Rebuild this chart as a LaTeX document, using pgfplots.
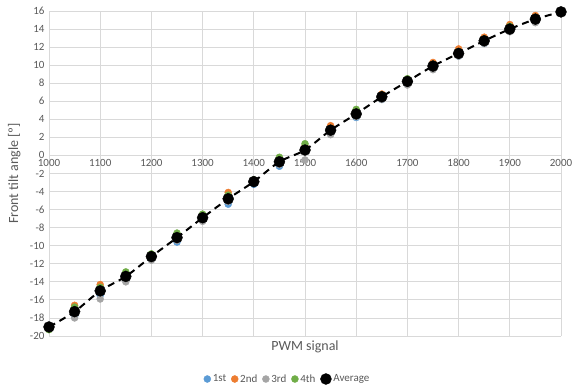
\documentclass[border=0pt]{standalone}
\usepackage{fontspec}
\setmainfont{Carlito}
\usepackage{pgfplots}
\usepackage{pgfplotstable}
\usetikzlibrary{calc}
\pgfplotsset{compat=1.18}
\definecolor{cblue}{HTML}{5B9BD5}
\definecolor{corange}{HTML}{ED7D31}
\definecolor{cgray}{HTML}{A5A5A5}
\definecolor{cgreen}{HTML}{70AD47}
\definecolor{txt}{HTML}{595959}
\definecolor{gridc}{HTML}{D9D9D9}
\pgfplotstableread{
x first second third fourth avg
1000 -19.0 -19.0 -19.1 -19.3 -19.0
1050 -17.8 -16.6 -18.0 -16.8 -17.3
1100 -15.5 -14.3 -15.9 -14.6 -15.0
1150 -13.8 -13.1 -14.0 -12.9 -13.4
1200 -11.5 -11.0 -11.6 -10.9 -11.2
1250 -9.6 -8.8 -9.4 -8.6 -9.1
1300 -7.1 -6.7 -7.3 -6.5 -6.9
1350 -5.4 -4.1 -5.1 -4.4 -4.8
1400 -3.2 -2.8 -3.0 -2.7 -2.9
1450 -1.2 -0.4 -1.0 -0.2 -0.7
1500 0.8 1.0 -0.5 1.3 0.6
1550 2.5 3.3 2.3 3.0 2.8
1600 4.2 4.9 4.3 5.1 4.6
1650 6.2 6.8 6.2 6.7 6.5
1700 7.9 8.4 7.8 8.5 8.2
1750 9.6 10.3 9.5 10.1 9.9
1800 11.0 11.8 11.0 11.5 11.3
1850 12.4 13.1 12.4 12.9 12.7
1900 13.8 14.5 13.7 14.3 14.0
1950 14.8 15.5 14.7 15.3 15.1
2000 15.9 15.9 15.9 15.9 15.9
}\data
\begin{document}
\begin{tikzpicture}
\begin{axis}[
  name=ax,
  scale only axis, width=512pt, height=325pt,
  xmin=1000, xmax=2000, ymin=-20, ymax=16,
  xtick={1000,1100,...,2000}, ytick={-20,-18,...,16},
  axis x line=middle, axis y line=left,
  axis line style={draw=gridc, line width=0.8pt, -},
  grid=major, grid style={gridc, line width=0.8pt},
  major tick length=0pt,
  hide obscured x ticks=false, hide obscured y ticks=false,
  /pgf/number format/assume math mode=true,
  /pgf/number format/1000 sep={},
  ticklabel style={font=\fontsize{11}{13}\selectfont, text=txt},
  xticklabel style={yshift=0pt},
  yticklabel style={xshift=-1pt},
  xlabel={PWM signal}, ylabel={Front tilt angle [º]},
  label style={font=\fontsize{14}{16}\selectfont, text=txt},
  xlabel style={at={(axis description cs:0.5,0)}, anchor=center, yshift=-11pt},
  ylabel style={at={(axis description cs:-0.068,0.5)}, anchor=center},
  legend style={at={(axis description cs:0.466,0)}, anchor=center, yshift=-43pt,
    draw=none, font=\fontsize{11}{13}\selectfont, text=txt,
    /tikz/every even column/.append style={column sep=3pt}},
  legend columns=5,
  legend cell align=left,
  clip=false,
]
\addplot[only marks, mark=*, mark size=3.5pt, mark options={draw=cblue, fill=cblue}] table[x=x, y=first]{\data};
\addlegendentry{1st}
\addplot[only marks, mark=*, mark size=3.5pt, mark options={draw=corange, fill=corange}] table[x=x, y=second]{\data};
\addlegendentry{2nd}
\addplot[only marks, mark=*, mark size=3.5pt, mark options={draw=cgray, fill=cgray}] table[x=x, y=third]{\data};
\addlegendentry{3rd}
\addplot[only marks, mark=*, mark size=3.5pt, mark options={draw=cgreen, fill=cgreen}] table[x=x, y=fourth]{\data};
\addlegendentry{4th}
\addplot[only marks, mark=*, mark size=5.5pt, mark options={draw=black, fill=black}] table[x=x, y=avg]{\data};
\addlegendentry{Average}
\addplot[black, line width=2pt, dash pattern=on 7pt off 5pt, smooth, forget plot] table[x=x, y=avg]{\data};
\end{axis}
\pgfresetboundingbox
\path ($(ax.south west)+(-49pt,-52pt)$) rectangle ($(ax.north east)+(11pt,11pt)$);
\end{tikzpicture}
\end{document}
